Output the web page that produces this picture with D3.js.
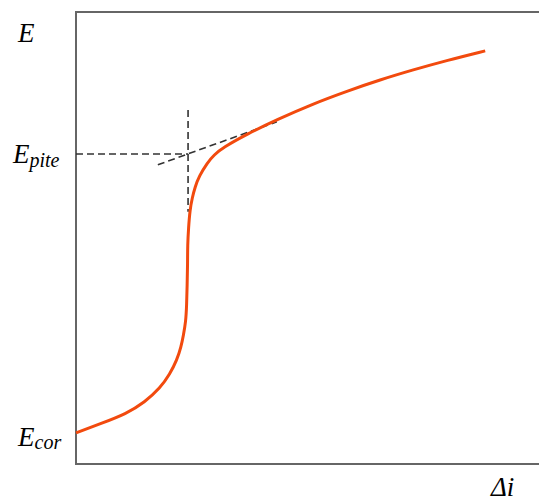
<!DOCTYPE html>
<html>
<head>
<meta charset="utf-8">
<script src="https://cdn.jsdelivr.net/npm/d3@7"></script>
<style>
  body { margin: 0; background: #fff; }
  svg { display: block; }
  .lbl { font-family: "Liberation Serif", "DejaVu Serif", serif; font-style: italic; fill: #000; }
</style>
</head>
<body>
<svg id="chart" width="539" height="502"></svg>
<script>
// polarisation curve, arbitrary units (0-100 on both axes)
const curveDi = [0, 5.2, 10.8, 14.8, 18.1, 20.2, 21.7, 22.6, 23.1, 23.6, 23.8, 23.9, 24.0, 24.0, 24.2, 24.5, 25.0, 25.6, 26.5, 28.2, 29.7, 31.6, 36.8, 43.2, 51.0, 58.3, 65.4, 72.5, 79.8, 88.0];
const curveE  = [6.9, 8.9, 11.1, 13.7, 16.8, 19.9, 23.0, 25.9, 28.5, 31.4, 35.2, 39.6, 44.0, 48.5, 52.2, 56.2, 58.9, 61.3, 63.7, 66.6, 68.4, 70.0, 73.0, 76.2, 79.7, 82.5, 85.0, 87.2, 89.3, 91.4];

const ePite = 68.6;
const diPite = 24.1;
const vertRange = [55.8, 78.3];
const tangentDi = [17.6, 43.2];
const tangentE = [66.2, 75.7];

const svg = d3.select("#chart");
const plotLeft = 76, plotTop = 12, plotBottom = 464, plotRight = 541;

const x = d3.scaleLinear().domain([0, 100]).range([plotLeft, plotRight]);
const y = d3.scaleLinear().domain([0, 100]).range([plotBottom, plotTop]);

// frame (left, top, bottom)
const frame = svg.append("g")
    .attr("stroke", "#666")
    .attr("stroke-width", 2)
    .attr("fill", "none");
frame.append("path")
    .attr("d", `M${x(100)},${y(100)}H${x(0)}V${y(0)}H${x(100)}`);

// dashed construction lines
const dash = svg.append("g")
    .attr("stroke", "#333")
    .attr("stroke-width", 1.6)
    .attr("stroke-dasharray", "7,4")
    .attr("fill", "none");

dash.append("line")
    .attr("x1", x(0)).attr("x2", x(diPite))
    .attr("y1", y(ePite)).attr("y2", y(ePite));

dash.append("line")
    .attr("x1", x(diPite)).attr("x2", x(diPite))
    .attr("y1", y(vertRange[1])).attr("y2", y(vertRange[0]));

dash.append("line")
    .attr("x1", x(tangentDi[0])).attr("y1", y(tangentE[0]))
    .attr("x2", x(tangentDi[1])).attr("y2", y(tangentE[1]));

// the curve
const pts = curveDi.map((d, i) => [d, curveE[i]]);
const line = d3.line()
    .x(d => x(d[0]))
    .y(d => y(d[1]))
    .curve(d3.curveBasis);

svg.append("path")
    .datum(pts)
    .attr("d", line)
    .attr("fill", "none")
    .attr("stroke", "#f24a0e")
    .attr("stroke-width", 3)
    .attr("stroke-linecap", "butt");

// labels
svg.append("text").attr("class", "lbl")
    .attr("x", 18).attr("y", 42)
    .style("font-size", "27px")
    .text("E");

const tp = svg.append("text").attr("class", "lbl")
    .attr("x", 13).attr("y", 163)
    .style("font-size", "27px");
tp.append("tspan").text("E");
tp.append("tspan").attr("dy", 4).style("font-size", "20px").text("pite");

const tc = svg.append("text").attr("class", "lbl")
    .attr("x", 18).attr("y", 446)
    .style("font-size", "27px");
tc.append("tspan").text("E");
tc.append("tspan").attr("dy", 3).style("font-size", "20px").text("cor");

svg.append("text").attr("class", "lbl")
    .attr("x", 491).attr("y", 496)
    .style("font-size", "27px")
    .text("Δi");
</script>
</body>
</html>
